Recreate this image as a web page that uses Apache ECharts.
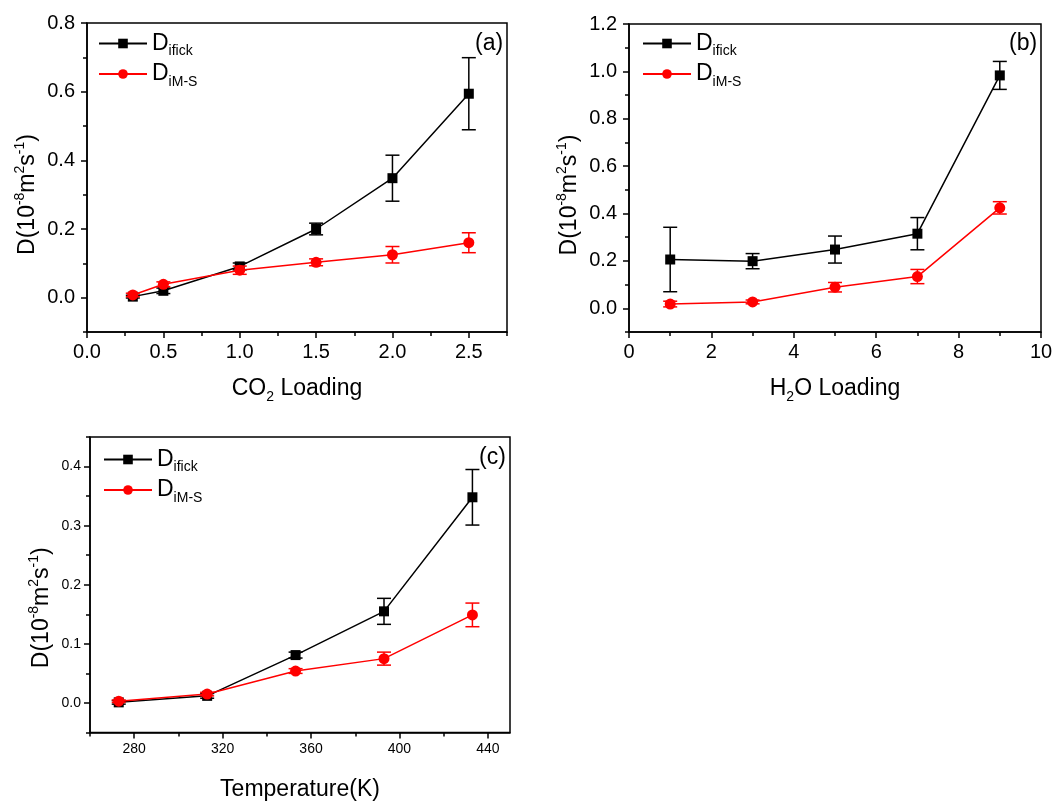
<!DOCTYPE html>
<html>
<head>
<meta charset="utf-8">
<script src="https://cdn.jsdelivr.net/npm/echarts@6/dist/echarts.min.js"></script>
<style>
  html, body { margin: 0; padding: 0; background: #fff; }
  #chart { width: 1063px; height: 802px; }
</style>
</head>
<body>
<div id="chart"></div>
<script>
  // (a) CO2 loading
  const aLoad = [0.3, 0.5, 1.0, 1.5, 2.0, 2.5]
  const aFick = [0.003, 0.02, 0.091, 0.2, 0.348, 0.594]
  const aFickErr = [0.004, 0.008, 0.01, 0.017, 0.067, 0.105]
  const aMS = [0.008, 0.039, 0.08, 0.103, 0.125, 0.16]
  const aMSErr = [0.005, 0.007, 0.012, 0.01, 0.024, 0.029]
  const aXTicks = [0, 0.5, 1.0, 1.5, 2.0, 2.5]
  const aXMinor = [0.25, 0.75, 1.25, 1.75, 2.25, 2.75]
  const aYTicks = [0, 0.2, 0.4, 0.6, 0.8]
  const aYMinor = [-0.1, 0.1, 0.3, 0.5, 0.7]

  // (b) H2O loading
  const bLoad = [1, 3, 5, 7, 9]
  const bFick = [0.206, 0.199, 0.248, 0.315, 0.983]
  const bFickErr = [0.136, 0.032, 0.057, 0.068, 0.059]
  const bMS = [0.018, 0.027, 0.089, 0.134, 0.424]
  const bMSErr = [0.012, 0.008, 0.02, 0.03, 0.026]
  const bXTicks = [0, 2, 4, 6, 8, 10]
  const bXMinor = [1, 3, 5, 7, 9]
  const bYTicks = [0, 0.2, 0.4, 0.6, 0.8, 1.0, 1.2]
  const bYMinor = [-0.1, 0.1, 0.3, 0.5, 0.7, 0.9, 1.1]

  // (c) temperature
  const cTemp = [273, 313, 353, 393, 433]
  const cFick = [0.001, 0.012, 0.081, 0.155, 0.348]
  const cFickErr = [0.003, 0.004, 0.005, 0.022, 0.047]
  const cMS = [0.003, 0.015, 0.054, 0.075, 0.149]
  const cMSErr = [0.002, 0.003, 0.004, 0.011, 0.02]
  const cXTicks = [280, 320, 360, 400, 440]
  const cXMinor = [260, 300, 340, 380, 420]
  const cYTicks = [0, 0.1, 0.2, 0.3, 0.4]
  const cYMinor = [-0.05, 0.05, 0.15, 0.25, 0.35, 0.45]

  const FONT = 'Liberation Sans'
  const BLACK = '#000'
  const RED = '#ff0000'

  const chart = echarts.init(document.getElementById('chart'))

  const nameRich = {
    t: { fontSize: 23, fontFamily: FONT, color: BLACK, lineHeight: 30 },
    p: { fontSize: 14, fontFamily: FONT, color: BLACK, verticalAlign: 'top' },
    s: { fontSize: 14, fontFamily: FONT, color: BLACK, verticalAlign: 'bottom', lineHeight: 10 }
  }
  const yName = '{t|D(10}{p|-8}{t|m}{p|2}{t|s}{p|-1}{t|)}'

  // 主轴带标签和长刻度，副轴只画次刻度
  function axisPair(dim, g, min, max, ticks, minor, dec, fs, margin, name, gap, pad) {
    const pos = dim === 'x' ? 'bottom' : 'left'
    const main = {
      type: 'value',
      gridIndex: g,
      position: pos,
      min: min,
      max: max,
      axisLine: { show: true, onZero: false, lineStyle: { color: BLACK, width: 1.5 } },
      axisTick: { show: true, customValues: ticks, length: 6, lineStyle: { color: BLACK, width: 1.5 } },
      axisLabel: {
        customValues: ticks,
        formatter: v => v.toFixed(dec),
        color: BLACK,
        fontSize: fs,
        fontFamily: FONT,
        margin: margin
      },
      splitLine: { show: false },
      name: name,
      nameLocation: 'middle',
      nameGap: gap,
      nameTextStyle: { rich: nameRich, padding: pad || 0 }
    }
    const sub = {
      type: 'value',
      gridIndex: g,
      position: pos,
      min: min,
      max: max,
      axisLine: { show: false, onZero: false },
      axisTick: { show: true, customValues: minor, length: 4, lineStyle: { color: BLACK, width: 1.5 } },
      axisLabel: { show: false },
      splitLine: { show: false }
    }
    return [main, sub]
  }

  function errSeries(g, xs, ys, es, color, z) {
    return {
      type: 'custom',
      name: 'err' + g + color,
      xAxisIndex: 2 * g,
      yAxisIndex: 2 * g,
      z: z,
      data: xs.map((v, i) => [v, ys[i] - es[i], ys[i] + es[i]]),
      encode: { x: 0, y: [1, 2] },
      renderItem: function(params, api) {
        const lo = api.coord([api.value(0), api.value(1)])
        const hi = api.coord([api.value(0), api.value(2)])
        const w = 7
        const st = { stroke: color, lineWidth: 1.5 }
        return {
          type: 'group',
          children: [
            { type: 'line', shape: { x1: lo[0], y1: lo[1], x2: hi[0], y2: hi[1] }, style: st },
            { type: 'line', shape: { x1: lo[0] - w, y1: lo[1], x2: lo[0] + w, y2: lo[1] }, style: st },
            { type: 'line', shape: { x1: hi[0] - w, y1: hi[1], x2: hi[0] + w, y2: hi[1] }, style: st }
          ]
        }
      }
    }
  }

  function lineSeries(g, name, xs, ys, color, symbol, size, z) {
    return {
      type: 'line',
      name: name,
      xAxisIndex: 2 * g,
      yAxisIndex: 2 * g,
      z: z,
      data: xs.map((v, i) => [v, ys[i]]),
      symbol: symbol,
      symbolSize: size,
      showAllSymbol: true,
      lineStyle: { color: color, width: 1.5 },
      itemStyle: { color: color },
      emphasis: { disabled: true }
    }
  }

  function legendAt(left, top) {
    return {
      data: ['Difick', 'DiM-S'],
      orient: 'vertical',
      left: left,
      top: top,
      itemWidth: 48,
      itemHeight: 12,
      itemGap: 4,
      selectedMode: false,
      formatter: n => n === 'Difick' ? '{m|D}{s|ifick}' : '{m|D}{s|iM-S}',
      textStyle: {
        rich: {
          m: { fontSize: 23, fontFamily: FONT, color: BLACK, lineHeight: 30 },
          s: { fontSize: 14, fontFamily: FONT, color: BLACK, verticalAlign: 'bottom', lineHeight: 8 }
        }
      }
    }
  }

  const gridBox = { show: true, borderColor: BLACK, borderWidth: 1.5, containLabel: false }

  const option = {
    backgroundColor: '#fff',
    animation: false,
    grid: [
      Object.assign({ left: 87, top: 23, width: 420, height: 309 }, gridBox),
      Object.assign({ left: 629, top: 24, width: 412, height: 308 }, gridBox),
      Object.assign({ left: 90, top: 437, width: 420, height: 309 }, gridBox)
    ],
    xAxis: [
      ...axisPair('x', 0, 0, 2.75, aXTicks, aXMinor, 1, 20, 10, '{t|CO}{s|2}{t| Loading}', 42),
      ...axisPair('x', 1, 0, 10, bXTicks, bXMinor, 0, 20, 10, '{t|H}{s|2}{t|O Loading}', 42),
      ...axisPair('x', 2, 260, 450, cXTicks, cXMinor, 0, 14, 10, '{t|Temperature(K)}', 42)
    ],
    yAxis: [
      ...axisPair('y', 0, -0.1, 0.8, aYTicks, aYMinor, 1, 20, 12, yName, 44, [0, 34, 0, 0]),
      ...axisPair('y', 1, -0.1, 1.2, bYTicks, bYMinor, 1, 20, 12, yName, 44, [0, 34, 0, 0]),
      ...axisPair('y', 2, -0.05, 0.45, cYTicks, cYMinor, 1, 14, 9, yName, 33, [0, 46, 0, 0])
    ],
    legend: [legendAt(93, 27), legendAt(637, 27), legendAt(98, 443)],
    graphic: [
      { type: 'text', x: 475, y: 32, style: { text: '(a)', font: '23px ' + FONT, fill: BLACK } },
      { type: 'text', x: 1009, y: 32, style: { text: '(b)', font: '23px ' + FONT, fill: BLACK } },
      { type: 'text', x: 479, y: 446, style: { text: '(c)', font: '23px ' + FONT, fill: BLACK } }
    ],
    series: [
      errSeries(0, aLoad, aFick, aFickErr, BLACK, 2),
      lineSeries(0, 'Difick', aLoad, aFick, BLACK, 'rect', 10, 3),
      errSeries(0, aLoad, aMS, aMSErr, RED, 4),
      lineSeries(0, 'DiM-S', aLoad, aMS, RED, 'circle', 11, 5),
      errSeries(1, bLoad, bFick, bFickErr, BLACK, 2),
      lineSeries(1, 'Difick', bLoad, bFick, BLACK, 'rect', 10, 3),
      errSeries(1, bLoad, bMS, bMSErr, RED, 4),
      lineSeries(1, 'DiM-S', bLoad, bMS, RED, 'circle', 11, 5),
      errSeries(2, cTemp, cFick, cFickErr, BLACK, 2),
      lineSeries(2, 'Difick', cTemp, cFick, BLACK, 'rect', 10, 3),
      errSeries(2, cTemp, cMS, cMSErr, RED, 4),
      lineSeries(2, 'DiM-S', cTemp, cMS, RED, 'circle', 11, 5)
    ]
  }
  chart.setOption(option)
</script>
</body>
</html>
